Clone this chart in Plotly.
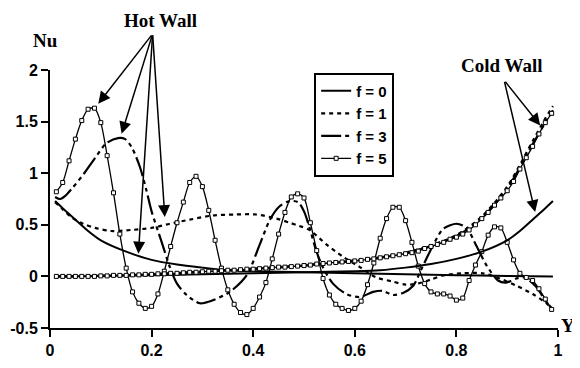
import plotly.graph_objects as go

# ---------------- data ----------------
# f = 5 (markers) hot wall and cold wall, sampled on the same Y positions
y5 = [0.0125, 0.025, 0.0375, 0.05, 0.0625, 0.075, 0.0875, 0.1, 0.1125, 0.125,
      0.1375, 0.15, 0.1625, 0.175, 0.1875, 0.2, 0.2125, 0.225, 0.2375, 0.25,
      0.2625, 0.275, 0.2875, 0.3, 0.3125, 0.325, 0.3375, 0.35, 0.3625, 0.375,
      0.3875, 0.4, 0.4125, 0.425, 0.4375, 0.45, 0.4625, 0.475, 0.4875, 0.5,
      0.5125, 0.525, 0.5375, 0.55, 0.5625, 0.575, 0.5875, 0.6, 0.6125, 0.625,
      0.6375, 0.65, 0.6625, 0.675, 0.6875, 0.7, 0.7125, 0.725, 0.7375, 0.75,
      0.7625, 0.775, 0.7875, 0.8, 0.8125, 0.825, 0.8375, 0.85, 0.8625, 0.875,
      0.8875, 0.9, 0.9125, 0.925, 0.9375, 0.95, 0.9625, 0.975, 0.9875]
nu5_hot = [0.82, 0.91, 1.12, 1.33, 1.51, 1.62, 1.63, 1.49, 1.17, 0.81,
           0.41, 0.08, -0.15, -0.26, -0.31, -0.29, -0.17, 0.05, 0.29, 0.52,
           0.72, 0.91, 0.97, 0.87, 0.64, 0.35, 0.08, -0.13, -0.27, -0.35,
           -0.37, -0.31, -0.20, -0.06, 0.17, 0.41, 0.62, 0.77, 0.80, 0.76,
           0.52, 0.25, -0.02, -0.18, -0.27, -0.31, -0.33, -0.31, -0.24, -0.08,
           0.13, 0.37, 0.56, 0.67, 0.67, 0.54, 0.33, 0.10, -0.07, -0.15,
           -0.17, -0.17, -0.19, -0.23, -0.21, -0.04, 0.11, 0.24, 0.40, 0.48,
           0.47, 0.33, 0.16, 0.03, -0.01, -0.04, -0.12, -0.22, -0.32]
nu5_cold = [0.00, 0.00, 0.00, 0.00, 0.00, 0.00, 0.00, 0.005, 0.005, 0.01,
            0.01, 0.01, 0.015, 0.015, 0.02, 0.02, 0.025, 0.025, 0.03, 0.03,
            0.035, 0.04, 0.04, 0.045, 0.05, 0.05, 0.055, 0.06, 0.06, 0.065,
            0.07, 0.07, 0.075, 0.08, 0.085, 0.09, 0.09, 0.095, 0.10, 0.105,
            0.11, 0.12, 0.125, 0.13, 0.135, 0.14, 0.145, 0.15, 0.155, 0.165,
            0.17, 0.18, 0.19, 0.20, 0.21, 0.22, 0.23, 0.245, 0.27, 0.29,
            0.31, 0.33, 0.36, 0.38, 0.41, 0.45, 0.50, 0.56, 0.62, 0.69,
            0.76, 0.83, 0.92, 1.04, 1.15, 1.26, 1.38, 1.49, 1.58]

# f = 0 (solid)
y0_hot = [0.01, 0.025, 0.05, 0.075, 0.1, 0.15, 0.2, 0.25, 0.3, 0.35, 0.4,
          0.5, 0.6, 0.7, 0.8, 0.9, 0.99]
nu0_hot = [0.73, 0.66, 0.55, 0.44, 0.35, 0.24, 0.16, 0.115, 0.085, 0.06, 0.05,
           0.04, 0.03, 0.02, 0.012, 0.005, 0.0]
y0_cold = [0.01, 0.1, 0.2, 0.3, 0.4, 0.5, 0.6, 0.65, 0.7, 0.75, 0.8, 0.85,
           0.9, 0.925, 0.95, 0.975, 0.99]
nu0_cold = [0.0, 0.005, 0.012, 0.02, 0.03, 0.04, 0.05, 0.06, 0.085, 0.12,
            0.17, 0.24, 0.35, 0.44, 0.55, 0.66, 0.73]

# f = 1 (short dash)
y1_hot = [0.01, 0.025, 0.043, 0.065, 0.089, 0.12, 0.16, 0.2, 0.236, 0.275,
          0.32, 0.367, 0.406, 0.446, 0.472, 0.49, 0.511, 0.544, 0.577, 0.61,
          0.642, 0.675, 0.70, 0.724, 0.75, 0.774, 0.813, 0.852, 0.885, 0.918,
          0.95, 0.977, 0.99]
nu1_hot = [0.72, 0.65, 0.57, 0.51, 0.47, 0.44, 0.45, 0.47, 0.51, 0.55,
           0.59, 0.60, 0.60, 0.56, 0.52, 0.49, 0.45, 0.31, 0.19, 0.09,
           -0.01, -0.05, -0.08, -0.07, -0.03, 0.01, 0.03, 0.03, -0.02, -0.09,
           -0.17, -0.26, -0.32]
y1_cold = [0.01, 0.05, 0.1, 0.15, 0.2, 0.25, 0.3, 0.35, 0.4, 0.45, 0.5, 0.55,
           0.6, 0.65, 0.7, 0.75, 0.8, 0.85, 0.9, 0.95, 0.975, 0.99]
nu1_cold = [0.0, 0.0, 0.005, 0.01, 0.02, 0.035, 0.045, 0.06, 0.075, 0.09,
            0.11, 0.13, 0.155, 0.185, 0.23, 0.30, 0.40, 0.58, 0.87, 1.31,
            1.53, 1.65]

# f = 3 (long dash - dot - dot)
y3_hot = [0.01, 0.02, 0.03, 0.043, 0.066, 0.089, 0.111, 0.134, 0.148, 0.161,
          0.177, 0.19, 0.2, 0.22, 0.236, 0.25, 0.269, 0.295, 0.321, 0.354,
          0.387, 0.413, 0.433, 0.452, 0.472, 0.488, 0.5, 0.511, 0.524, 0.537,
          0.557, 0.583, 0.61, 0.636, 0.655, 0.675, 0.695, 0.715, 0.731, 0.754,
          0.774, 0.80, 0.82, 0.839, 0.859, 0.882, 0.898, 0.918, 0.934, 0.957,
          0.977, 0.99]
nu3_hot = [0.77, 0.75, 0.78, 0.85, 0.99, 1.15, 1.29, 1.34, 1.33, 1.25,
           1.06, 0.83, 0.63, 0.33, 0.09, -0.07, -0.18, -0.26, -0.23, -0.15,
           0.01, 0.31, 0.55, 0.68, 0.73, 0.72, 0.63, 0.47, 0.25, 0.09,
           -0.07, -0.17, -0.20, -0.15, -0.14, -0.18, -0.16, -0.09, 0.07, 0.30,
           0.46, 0.51, 0.47, 0.30, 0.11, -0.04, -0.06, -0.02, -0.01, -0.10,
           -0.25, -0.32]
y3_cold = [0.01, 0.05, 0.1, 0.15, 0.2, 0.25, 0.3, 0.35, 0.4, 0.45, 0.5, 0.55,
           0.6, 0.65, 0.7, 0.75, 0.8, 0.85, 0.9, 0.95, 0.975, 0.99]
nu3_cold = [0.0, 0.0, 0.005, 0.012, 0.02, 0.032, 0.045, 0.058, 0.072, 0.088,
            0.105, 0.125, 0.15, 0.18, 0.225, 0.295, 0.39, 0.565, 0.85, 1.28,
            1.49, 1.61]

legend_names = ["f = 0", "f = 1", "f = 3", "f = 5"]
x_ticks = [0, 0.2, 0.4, 0.6, 0.8, 1]
x_tick_text = ["0", "0.2", "0.4", "0.6", "0.8", "1"]
y_ticks = [-0.5, 0, 0.5, 1, 1.5, 2]
y_tick_text = ["-0.5", "0", "0.5", "1", "1.5", "2"]

# ---------------- figure ----------------
SANS = "Liberation Sans, Arial, sans-serif"
SERIF = "Liberation Serif, Times New Roman, serif"
BLACK = "black"

fig = go.Figure()

def add(x, y, name, show, dash, width, markers=False):
    fig.add_trace(go.Scatter(
        x=x, y=y, name=name, showlegend=show,
        mode="lines+markers" if markers else "lines",
        line=dict(color=BLACK, width=width, dash=dash, shape="spline", smoothing=0.8),
        marker=dict(symbol="square", size=4, color="white",
                    line=dict(color=BLACK, width=1)) if markers else None,
    ))

dash1 = "4px,4px"
dash3 = "20px,4px,4px,4px,4px,4px"

add(y0_hot, nu0_hot, legend_names[0], True, "solid", 2)
add(y1_hot, nu1_hot, legend_names[1], True, dash1, 2.2)
add(y3_hot, nu3_hot, legend_names[2], True, dash3, 2.2)
add(y5, nu5_hot, legend_names[3], True, "solid", 1.3, markers=True)
add(y0_cold, nu0_cold, legend_names[0], False, "solid", 2)
add(y1_cold, nu1_cold, legend_names[1], False, dash1, 2.2)
add(y3_cold, nu3_cold, legend_names[2], False, dash3, 2.2)
add(y5, nu5_cold, legend_names[3], False, "solid", 1.3, markers=True)

axis_common = dict(
    showline=True, linewidth=2, linecolor=BLACK, mirror=False,
    ticks="outside", ticklen=7, tickwidth=2, tickcolor=BLACK,
    showgrid=False, zeroline=False, automargin=False,
    tickfont=dict(family=SANS, size=16, color=BLACK, weight="bold"),
)

# the page body has an 8px margin, so the figure is 8px smaller than the window
fig.update_layout(
    width=572, height=360,
    margin=dict(l=42, r=22, t=62, b=40),
    paper_bgcolor="white", plot_bgcolor="white",
    xaxis=dict(range=[0, 1], tickvals=x_ticks, ticktext=x_tick_text, **axis_common),
    yaxis=dict(range=[-0.5, 2], tickvals=y_ticks, ticktext=y_tick_text, **axis_common),
    legend=dict(
        x=0.52, y=0.99, xanchor="left", yanchor="top",
        bordercolor=BLACK, borderwidth=2, bgcolor="white",
        font=dict(family=SANS, size=15, color=BLACK, weight="bold"),
    ),
    showlegend=True,
)

# text labels
def label(text, x, y):
    fig.add_annotation(text=text, x=x, y=y, xref="paper", yref="paper",
                       xanchor="center", yanchor="middle", showarrow=False,
                       font=dict(family=SERIF, size=19, color=BLACK, weight="bold"))

label("Hot Wall", 0.2185, 1.192)
label("Cold Wall", 0.888, 1.019)
label("Nu", -0.0098, 1.116)
label("Y", 1.02, 0.008)

# arrows (tip, origin) in data coordinates
def arrow(tx, ty, ox, oy):
    fig.add_annotation(x=tx, y=ty, ax=ox, ay=oy, xref="x", yref="y",
                       axref="x", ayref="y", text="", showarrow=True,
                       arrowhead=2, arrowsize=1.6, arrowwidth=1.5,
                       arrowcolor=BLACK, standoff=0)

hot_origin = (0.202, 2.35)
arrow(0.095, 1.673, *hot_origin)
arrow(0.141, 1.383, *hot_origin)
arrow(0.174, 0.22, *hot_origin)
arrow(0.226, 0.575, *hot_origin)
cold_origin = (0.894, 1.90)
arrow(0.965, 1.463, *cold_origin)
arrow(0.955, 0.623, *cold_origin)

fig.write_html("out.html")
